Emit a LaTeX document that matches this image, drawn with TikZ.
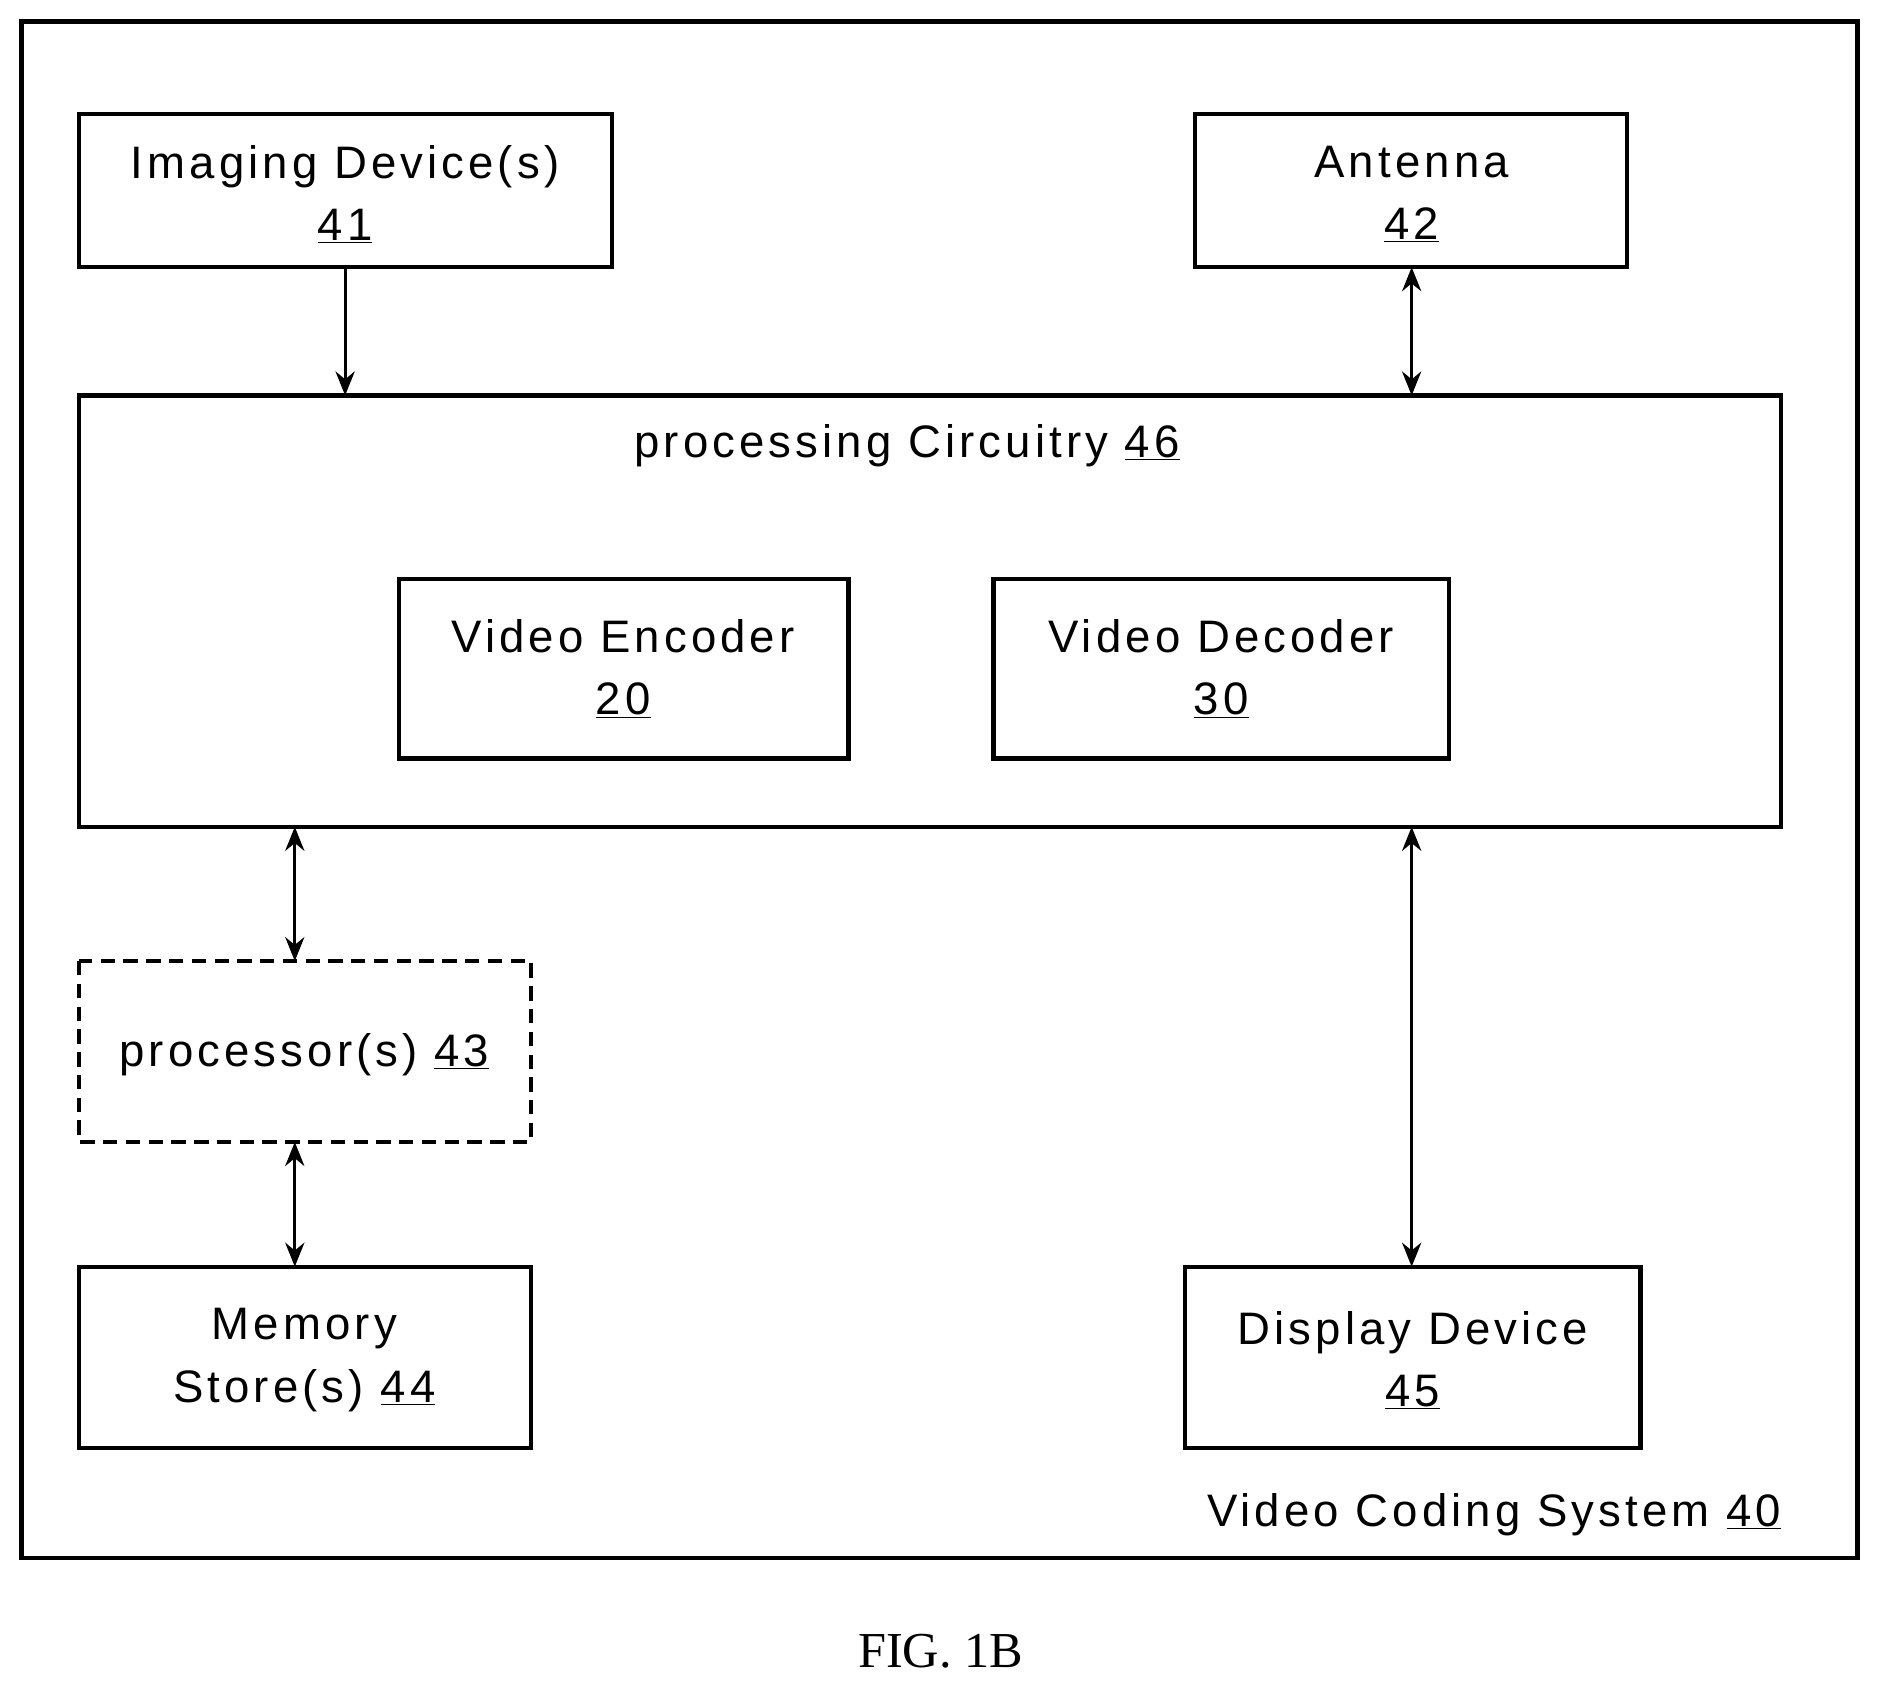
\documentclass[tikz,border=0pt]{standalone}
\usepackage{fontspec}
\setmainfont{Liberation Sans}[LetterSpace=9]
\newfontfamily\figfont{Liberation Serif}
\usetikzlibrary{arrows.meta}
\begin{document}
\begin{tikzpicture}[x=1pt,y=-1pt,
  box/.style = {draw, line width=3.5pt},
  lbl/.style = {font=\fontsize{38}{52}\selectfont, align=center},
  link/.style = {line width=2.5pt, -{Stealth[length=20pt,width=16pt]}},
  dlink/.style = {line width=2.5pt, {Stealth[length=20pt,width=16pt]}-{Stealth[length=20pt,width=16pt]}}
  ]
  \useasboundingbox (0,0) rectangle (1568,1408);
  \draw[box] (18,18) rectangle (1550,1300);
  % top row
  \draw[box] (66,95) rectangle (511,223);
  \node[lbl] (img) at (288,162) {Imaging Device(s)\\\underline{41}};
  \draw[box] (997,95) rectangle (1358,223);
  \node[lbl] (ant) at (1178,162) {Antenna\\\underline{42}};
  % processing circuitry
  \draw[box] (66,330) rectangle (1486,690);
  \node[lbl] (proc) at (757,372) {processing Circuitry \underline{46}};
  \draw[box] (333,483) rectangle (708,633);
  \node[lbl] (enc) at (520,558) {Video Encoder\\\underline{20}};
  \draw[box] (829,483) rectangle (1209,633);
  \node[lbl] (dec) at (1019,558) {Video Decoder\\\underline{30}};
  % bottom
  \draw[box, dash pattern=on 12pt off 7pt] (66,802) rectangle (443,953);
  \node[lbl] (cpu) at (254,880) {processor(s) \underline{43}};
  \draw[box] (66,1057) rectangle (443,1208);
  \node[lbl] (mem) at (254,1135) {Memory\\Store(s) \underline{44}};
  \draw[box] (989,1057) rectangle (1369,1208);
  \node[lbl] (disp) at (1179,1135) {Display Device\\\underline{45}};
  \node[lbl, anchor=east] (sys) at (1490,1264) {Video Coding System \underline{40}};
  \node[font=\figfont\fontsize{42}{48}\selectfont] (fig) at (785,1378) {FIG. 1B};
  % connectors
  \coordinate (a1) at (288,223); \coordinate (a2) at (288,330);
  \coordinate (b1) at (1178,223); \coordinate (b2) at (1178,330);
  \coordinate (c1) at (246,690); \coordinate (c2) at (246,802);
  \coordinate (d1) at (246,953); \coordinate (d2) at (246,1057);
  \coordinate (e1) at (1178,690); \coordinate (e2) at (1178,1057);
  \draw[link] (a1) -- (a2);
  \draw[dlink] (b1) -- (b2);
  \draw[dlink] (c1) -- (c2);
  \draw[dlink] (d1) -- (d2);
  \draw[dlink] (e1) -- (e2);
\end{tikzpicture}
\end{document}
